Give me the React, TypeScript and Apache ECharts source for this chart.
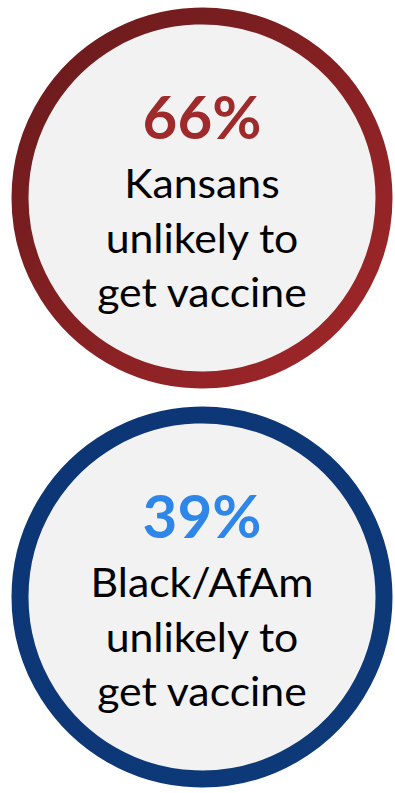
import React, { useEffect, useRef } from "react";
import * as echarts from "echarts";

const percents = [66, 39];
const groups = ["Kansans", "Black/AfAm"];
const captionLines = ["unlikely to", "get vaccine"];
const ringStart = ["#681a1c", "#0c3574"];
const ringEnd = ["#a2272a", "#0e3a7a"];
const pctColors = ["#9e2a2b", "#2e86e8"];

const CX = 202;
const CENTERS_Y = [198, 597];
const R_OUT = 190.5;
const RING = 17;
const FONT = "Lato, 'Open Sans', sans-serif";
const PCT_SIZE = 60;
const BODY_SIZE = 40;
const BODY_SCALE_X = 1.07;

function buildGraphic() {
  const els: any[] = [];
  percents.forEach((p, i) => {
    const cy = CENTERS_Y[i];
    els.push({
      type: "circle",
      shape: { cx: CX, cy, r: R_OUT - RING / 2 },
      style: {
        fill: "#f2f2f2",
        lineWidth: RING,
        stroke: new echarts.graphic.LinearGradient(0, 0, 1, 1, [
          { offset: 0, color: ringStart[i] },
          { offset: 1, color: ringEnd[i] },
        ]),
      },
    });
    const lines = [
      { t: p + "%", dy: -59, size: PCT_SIZE, weight: "bold", color: pctColors[i], sx: 1 },
      { t: groups[i], dy: 0, size: BODY_SIZE, weight: "normal", color: "#000", sx: BODY_SCALE_X },
      { t: captionLines[0], dy: 55, size: BODY_SIZE, weight: "normal", color: "#000", sx: BODY_SCALE_X },
      { t: captionLines[1], dy: 109, size: BODY_SIZE, weight: "normal", color: "#000", sx: BODY_SCALE_X },
    ];
    lines.forEach((l) => {
      els.push({
        type: "text",
        x: CX,
        y: cy + l.dy - 0.387 * l.size,
        scaleX: l.sx,
        style: {
          text: l.t,
          fill: l.color,
          font: `${l.weight} ${l.size}px ${FONT}`,
          align: "center",
          verticalAlign: "middle",
        },
      });
    });
  });
  return els;
}

export default function App() {
  const ref = useRef<HTMLDivElement>(null);
  useEffect(() => {
    if (!ref.current) return;
    const chart = echarts.init(ref.current, null, { renderer: "svg" });
    chart.setOption({
      animation: false,
      backgroundColor: "#ffffff",
      graphic: { elements: buildGraphic() },
    });
    return () => chart.dispose();
  }, []);
  return (
    <div
      ref={ref}
      style={{ position: "fixed", left: 0, top: 0, width: 395, height: 793 }}
    />
  );
}
